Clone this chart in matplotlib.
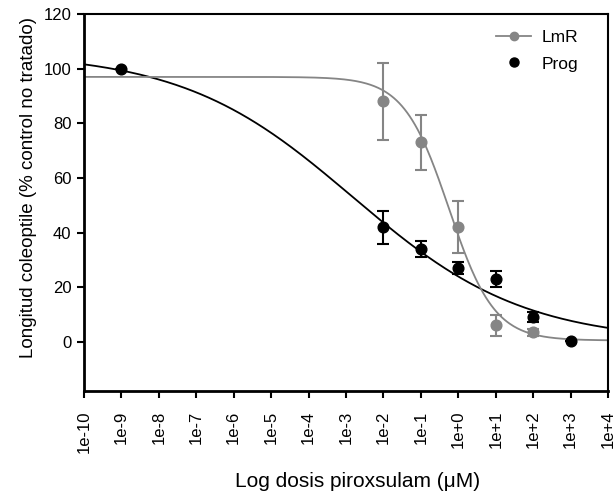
"""Dose-response curves of coleoptile length vs piroxsulam dose."""

import numpy as np
import matplotlib.pyplot as plt
from matplotlib.lines import Line2D

plt.rcParams["font.family"] = ["Liberation Sans", "DejaVu Sans"]

# Observed means and errors
lmr_dose = [1e-2, 1e-1, 1e0, 1e1, 1e2]
lmr_mean = [88, 73, 42, 6, 3.5]
lmr_err = [14, 10, 9.5, 3.7, 1.2]

prog_dose = [1e-9, 1e-2, 1e-1, 1e0, 1e1, 1e2, 1e3]
prog_mean = [100, 42, 34, 27, 23, 9, 0.3]
prog_err = [0, 6, 2.8, 2.3, 3, 1.8, 0]

# Log-logistic fit parameters (top, bottom, slope, log10 ED50)
lmr_fit = dict(top=97, bottom=0.5, slope=0.72, log_ed50=-0.25)
prog_fit = dict(top=106, bottom=0.0, slope=0.19, log_ed50=-2.82)

tick_exponents = list(range(-10, 5))
tick_labels = [f"1e{e:+d}" if e >= 0 else f"1e{e}" for e in tick_exponents]

GRAY = "#858585"


def log_logistic(log_x, top, bottom, slope, log_ed50):
    """Four-parameter log-logistic curve."""
    return bottom + (top - bottom) / (1 + 10 ** (slope * (log_x - log_ed50)))


fig = plt.figure(figsize=(6.13, 4.94), dpi=100)
ax = fig.add_axes([0.137, 0.2085, 0.855, 0.763])

log_x = np.linspace(-10, 4, 400)
ax.plot(10 ** log_x, log_logistic(log_x, **prog_fit), color="black", lw=1.3, zorder=2)
ax.plot(10 ** log_x, log_logistic(log_x, **lmr_fit), color=GRAY, lw=1.3, zorder=2)

ax.errorbar(prog_dose, prog_mean, yerr=prog_err, fmt="o", color="black",
            ms=7.7, capsize=4, elinewidth=1.5, capthick=1.5, zorder=3)
ax.errorbar(lmr_dose, lmr_mean, yerr=lmr_err, fmt="o", color=GRAY,
            ms=7.7, capsize=4, elinewidth=1.5, capthick=1.5, zorder=4)

ax.set_xscale("log")
ax.set_xlim(1e-10, 1e4)
ax.set_ylim(-18, 120)
ax.set_xticks([10.0 ** e for e in tick_exponents])
ax.set_xticklabels(tick_labels, rotation=90)
ax.minorticks_off()
ax.set_yticks(range(0, 121, 20))

ax.tick_params(axis="both", direction="out", length=5, width=1.5)
ax.tick_params(axis="y", labelsize=12, pad=4)
ax.tick_params(axis="x", labelsize=12, pad=9)
for side in ["left", "bottom"]:
    ax.spines[side].set_linewidth(2)
for side in ["top", "right"]:
    ax.spines[side].set_linewidth(1.5)

ax.set_xlabel("Log dosis piroxsulam (\u03bcM)", fontsize=15)
ax.xaxis.set_label_coords(0.522, -0.215)
ax.set_ylabel("Longitud coleoptile (% control no tratado)", fontsize=13.5)
ax.yaxis.set_label_coords(-0.09, 0.54)

handles = [
    Line2D([], [], color=GRAY, marker="o", ms=6, lw=1.3),
    Line2D([], [], color="black", marker="o", ms=6.5, lw=0),
]
ax.legend(handles, ["LmR", "Prog"], loc="upper right", frameon=False,
          fontsize=12.5, handlelength=2.0, handletextpad=0.6, labelspacing=0.65,
          borderpad=0, borderaxespad=0, bbox_to_anchor=(0.943, 0.958))

fig.savefig("out.png", dpi=100)
